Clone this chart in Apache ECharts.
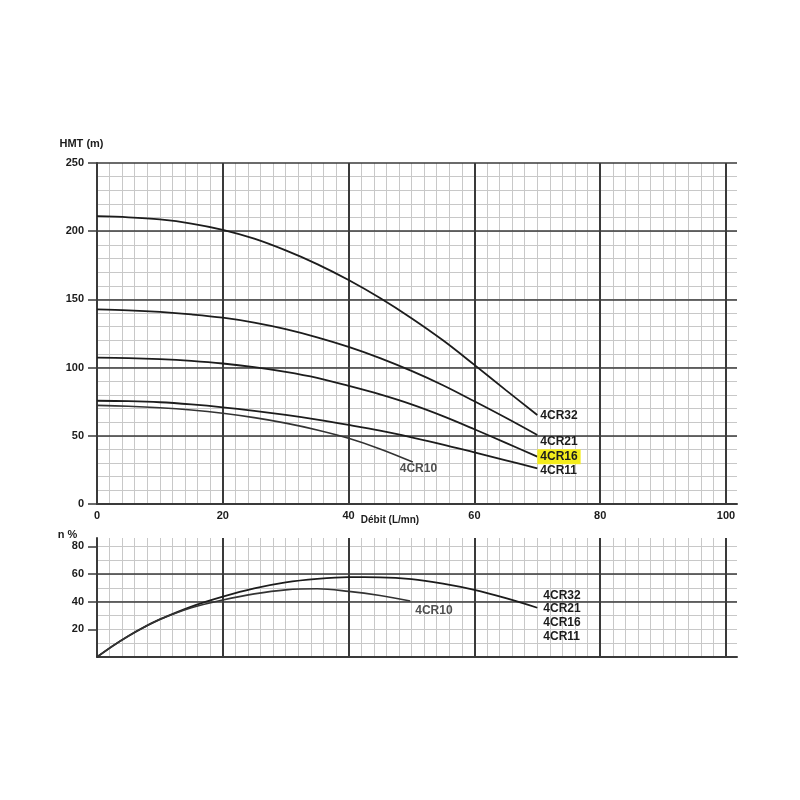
<!DOCTYPE html>
<html><head><meta charset="utf-8">
<script src="https://cdn.jsdelivr.net/npm/echarts@6/dist/echarts.min.js"></script>
<style>html,body{margin:0;padding:0;background:#fff}#c{width:800px;height:800px}</style>
</head><body><div id="c"></div>
<script>
// ---- Data ----
const flowTop   = [0,5,10,15,20,25,30,35,40,45,50,55,60,65,70];
const hmt4CR32  = [211,210.2,208.6,205.6,201,194.5,185.9,175.9,164.2,151,136.2,120,102,83.5,65.2];
const hmt4CR21  = [142.7,142,140.8,139,136.6,133,128.2,122.2,115.2,107,97.6,87.1,75.3,63.2,50.6];
const hmt4CR16  = [107.3,107,106.2,104.9,103,100.3,96.8,92.4,86.6,80.3,73,64.4,54.8,44.8,34.7];
const hmt4CR11  = [75.7,75.4,74.6,73,70.9,68.3,65.3,61.9,58,53.8,48.9,43.6,37.8,32,26.2];
const flow4CR10 = [0,5,10,15,20,25,30,35,40,45,50.2];
const hmt4CR10  = [72.3,71.7,70.6,68.9,66.5,63.3,59.3,54.3,48.2,40.4,30.8];

const flowEff     = [0,2.5,5,7.5,10,15,20,25,30,35,40,45,50,55,60,65,70];
const effMain     = [0,8,15.2,21.6,27.2,36.4,43.6,49.6,54,56.5,57.7,57.6,56.3,53,48.5,42.5,35.6];
const flowEff10   = [0,2.5,5,7.5,10,15,20,25,30,35,40,45,49.8];
const eff4CR10    = [0,8,15.2,21.6,27.2,35.6,41.2,45.6,48.5,49.3,47.4,44.4,40.5];
const effMainNames = ['4CR32','4CR21','4CR16','4CR11'];

const xTickLabels   = [0,20,40,60,80,100];
const hmtTickLabels = [0,50,100,150,200,250];
const effTickLabels = [20,40,60,80];

// ---- Styling ----
const FONT = 'Liberation Sans, Arial, Helvetica, sans-serif';
const XMAX = 101.75;
const DARK = '#3a3a3a', MINOR = '#c8c8c8', INK = '#1c1c1c';

function pairs(xs, ys){ return xs.map((x,i)=>[x, ys[i]]); }

const lblBase = {show:true, fontFamily:FONT, fontWeight:'bold', fontSize:12, color:INK, distance:3};

function majorX(grid, withLabels){
  return {type:'value', gridIndex:grid, min:0, max:XMAX, interval:20, z:3,
    axisLine:{show:true, onZero:false, lineStyle:{color:DARK, width:2}},
    axisTick:{show:false},
    axisLabel: withLabels ? {customValues:xTickLabels, color:INK, fontWeight:'bold', fontSize:11, margin:6, fontFamily:FONT} : {show:false},
    splitLine:{show:true, showMinLine:true, showMaxLine:false, lineStyle:{color:DARK, width:2}}};
}
function minorX(grid){
  return {type:'value', gridIndex:grid, min:0, max:XMAX, interval:2, z:1,
    axisLine:{show:false}, axisTick:{show:false}, axisLabel:{show:false},
    splitLine:{show:true, showMinLine:false, showMaxLine:false, lineStyle:{color:MINOR, width:1}}};
}

const xTop = majorX(0, true);
xTop.name = 'Débit (L/mn)';
xTop.nameLocation = 'middle';
xTop.nameGap = 11;
xTop.nameMoveOverlap = false;
xTop.nameTextStyle = {fontFamily:FONT, fontWeight:'bold', fontSize:10, color:INK, padding:[0,54,0,0]};

const option = {
  animation:false,
  backgroundColor:'#fff',
  textStyle:{fontFamily:FONT},
  grid:[{left:97, right:63, top:163, height:341},{left:97, right:63, top:538, height:119}],
  xAxis:[ xTop, minorX(0), majorX(1,false), minorX(1) ],
  yAxis:[
    {type:'value', gridIndex:0, min:0, max:250, interval:50, z:3,
     name:'HMT (m)', nameLocation:'end', nameGap:14, nameMoveOverlap:false,
     nameTextStyle:{fontFamily:FONT, fontWeight:'bold', fontSize:11, color:INK, padding:[0,31,0,0]},
     axisLine:{show:true, lineStyle:{color:DARK, width:2}},
     axisTick:{show:true, inside:false, length:9, customValues:hmtTickLabels, lineStyle:{color:DARK, width:1.5}},
     axisLabel:{customValues:hmtTickLabels, color:INK, fontWeight:'bold', fontSize:11, margin:13, fontFamily:FONT},
     splitLine:{show:true, showMinLine:false, showMaxLine:true, lineStyle:{color:DARK, width:1.6}}},
    {type:'value', gridIndex:0, min:0, max:250, interval:10, z:1,
     axisLine:{show:false}, axisTick:{show:false}, axisLabel:{show:false},
     splitLine:{show:true, showMinLine:false, showMaxLine:false, lineStyle:{color:MINOR, width:1}}},
    {type:'value', gridIndex:1, min:0, max:86, interval:20, z:3,
     name:'n %', nameLocation:'end', nameGap:-2, nameMoveOverlap:false,
     nameTextStyle:{fontFamily:FONT, fontWeight:'bold', fontSize:11, color:INK, padding:[0,59,0,0]},
     axisLine:{show:true, lineStyle:{color:DARK, width:2}},
     axisTick:{show:true, inside:false, length:9, customValues:effTickLabels, lineStyle:{color:DARK, width:1.5}},
     axisLabel:{customValues:effTickLabels, color:INK, fontWeight:'bold', fontSize:11, margin:13, fontFamily:FONT},
     splitLine:{show:true, showMinLine:false, showMaxLine:false, lineStyle:{color:DARK, width:1.6}}},
    {type:'value', gridIndex:1, min:0, max:86, interval:10, z:1,
     axisLine:{show:false}, axisTick:{show:false}, axisLabel:{show:false},
     splitLine:{show:true, showMinLine:false, showMaxLine:false, lineStyle:{color:MINOR, width:1}}}
  ],
  series:[
    {name:'4CR32', type:'line', xAxisIndex:0, yAxisIndex:0, data:pairs(flowTop,hmt4CR32), smooth:0.35, symbol:'none', z:5,
     lineStyle:{color:INK, width:1.8}, endLabel:Object.assign({}, lblBase, {formatter:'{a}', offset:[0,1]})},
    {name:'4CR21', type:'line', xAxisIndex:0, yAxisIndex:0, data:pairs(flowTop,hmt4CR21), smooth:0.35, symbol:'none', z:5,
     lineStyle:{color:INK, width:1.8}, endLabel:Object.assign({}, lblBase, {formatter:'{a}', offset:[0,7]})},
    {name:'4CR16', type:'line', xAxisIndex:0, yAxisIndex:0, data:pairs(flowTop,hmt4CR16), smooth:0.35, symbol:'none', z:5,
     lineStyle:{color:INK, width:1.8}, endLabel:Object.assign({}, lblBase, {formatter:'{a}', distance:0, offset:[0,0], backgroundColor:'#f4ec1c', padding:[2,3,1,3]})},
    {name:'4CR11', type:'line', xAxisIndex:0, yAxisIndex:0, data:pairs(flowTop,hmt4CR11), smooth:0.35, symbol:'none', z:5,
     lineStyle:{color:INK, width:1.8}, endLabel:Object.assign({}, lblBase, {formatter:'{a}', offset:[0,2]})},
    {name:'4CR10', type:'line', xAxisIndex:0, yAxisIndex:0, data:pairs(flow4CR10,hmt4CR10), smooth:0.35, symbol:'none', z:5,
     lineStyle:{color:'#333', width:1.6}, endLabel:Object.assign({}, lblBase, {formatter:'{a}', color:'#505050', distance:0, offset:[-13,7]})},
    {name:'η main', type:'line', xAxisIndex:2, yAxisIndex:2, data:pairs(flowEff,effMain), smooth:0.35, symbol:'none', z:5,
     lineStyle:{color:INK, width:1.8}, endLabel:Object.assign({}, lblBase, {formatter:effMainNames.join('\n'), lineHeight:13.7, distance:0, offset:[6,8]})},
    {name:'4CR10 η', type:'line', xAxisIndex:2, yAxisIndex:2, data:pairs(flowEff10,eff4CR10), smooth:0.35, symbol:'none', z:5,
     lineStyle:{color:'#333', width:1.6}, endLabel:Object.assign({}, lblBase, {formatter:'4CR10', color:'#505050', distance:0, offset:[5,10]})}
  ]
};
const chart = echarts.init(document.getElementById('c'), null, {renderer:'canvas'});
chart.setOption(option);
</script></body></html>
